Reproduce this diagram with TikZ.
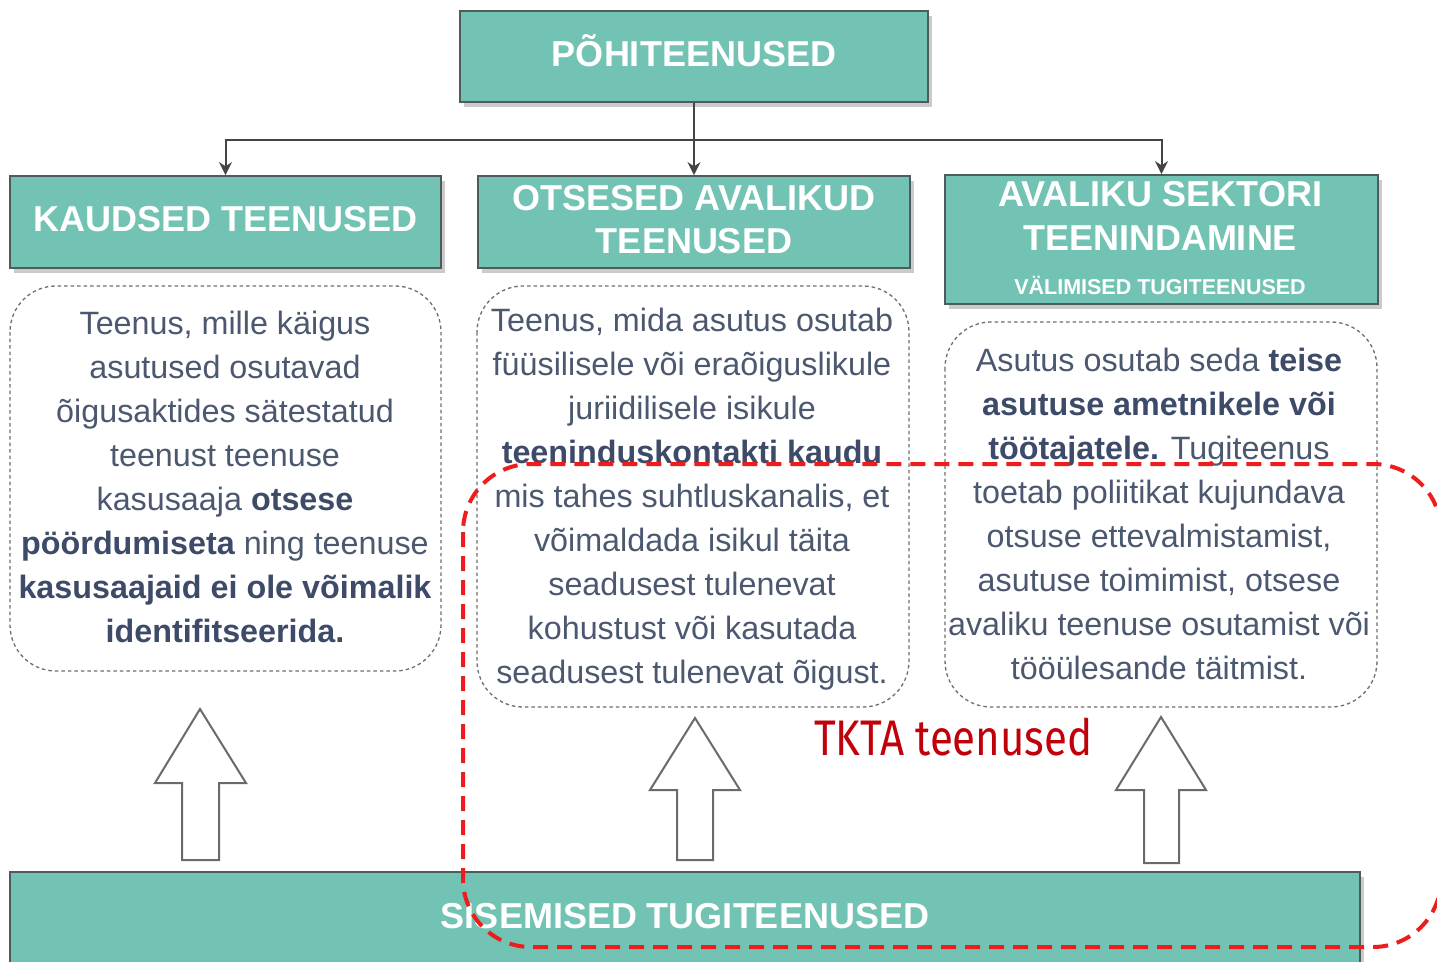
\documentclass[tikz,border=0pt]{standalone}
\usepackage{fontspec}
\setmainfont{Liberation Sans}
\newfontfamily\tktafont[FakeStretch=0.84]{Fira Sans}
\usetikzlibrary{shadows,arrows.meta}
\definecolor{tealfill}{HTML}{72C3B3}
\definecolor{boxline}{HTML}{4E5B5A}
\definecolor{bodytext}{HTML}{4C586F}
\definecolor{boldtext}{HTML}{3D4B69}
\definecolor{descline}{HTML}{6E6E6E}
\definecolor{connline}{HTML}{444444}
\definecolor{arrowline}{HTML}{6A6A6A}
\definecolor{tktared}{HTML}{EE1C1C}
\definecolor{tktatext}{HTML}{C0000A}
\newcommand\mybold[1]{\textbf{\color{boldtext}#1}}
\begin{document}
\begin{tikzpicture}[x=1pt,y=-1pt,
  headbox/.style={draw=boxline, line width=1.8pt, fill=tealfill, inner sep=0pt,
    drop shadow={shadow xshift=4pt, shadow yshift=-5pt, fill=black!45, opacity=0.45}},
  headtxt/.style={anchor=base, inner sep=0pt, text=white, font=\fontsize{36}{40}\selectfont\bfseries},
  subtxt/.style={anchor=base, inner sep=0pt, text=white, font=\fontsize{21.5}{24}\selectfont\bfseries},
  body/.style={anchor=base, inner sep=0pt, text=bodytext, font=\fontsize{32.3}{44}\selectfont},
  descbox/.style={draw=descline, line width=1.3pt, dash pattern=on 3.5pt off 3pt, rounded corners=46pt},
  conn/.style={draw=connline, line width=2pt, -{Stealth[length=13pt,width=13pt]}},
  blockarrow/.style={draw=arrowline, line width=2pt, fill=white, line join=miter},
  tkta/.style={draw=tktared, line width=4pt, dash pattern=on 15pt off 9pt, rounded corners=68pt}
]
\useasboundingbox[fill=white] (0,0) rectangle (1437,961);

% ---- teal boxes
\node[headbox, minimum width=468pt, minimum height=91pt] (poh) at (694,56.5) {};
\node[headbox, minimum width=431pt, minimum height=92pt] (kaud) at (225.5,222) {};
\node[headbox, minimum width=432pt, minimum height=92pt] (ots) at (694,222) {};
\node[headbox, minimum width=433pt, minimum height=129pt] (aval) at (1161.5,239.5) {};
\node[headbox, minimum width=1350pt, minimum height=108pt] (sis) at (685,926) {};

\node[headtxt] (pohT) at (694,66) {PÕHITEENUSED};
\node[headtxt] (kaudT) at (225.5,231) {KAUDSED TEENUSED};
\node[headtxt] (otsT1) at (694,210) {OTSESED AVALIKUD};
\node[headtxt] (otsT2) at (694,253) {TEENUSED};
\node[headtxt] (avalT1) at (1160,206) {AVALIKU SEKTORI};
\node[headtxt] (avalT2) at (1160,250) {TEENINDAMINE};
\node[subtxt] (avalT3) at (1160,294) {VÄLIMISED TUGITEENUSED};
\node[headtxt] (sisT) at (685,928) {SISEMISED TUGITEENUSED};

% ---- connectors
\coordinate (hub) at (694,140);
\draw[conn] (poh.south) -- (ots.north);
\draw[conn] (hub) -| (kaud.north);
\draw[conn] (hub) -| (aval.north);

% ---- description boxes
\draw[descbox] (10,286) rectangle (441,671);
\draw[descbox] (477,286) rectangle (909,707);
\draw[descbox] (945,322) rectangle (1377,707);

% left text
\node[body] (l1) at (225,334) {Teenus, mille käigus};
\node[body] (l2) at (225,378) {asutused osutavad};
\node[body] (l3) at (225,422) {õigusaktides sätestatud};
\node[body] (l4) at (225,466) {teenust teenuse};
\node[body] (l5) at (225,510) {kasusaaja \mybold{otsese}};
\node[body] (l6) at (225,554) {\mybold{pöördumiseta} ning teenuse};
\node[body] (l7) at (225,598) {\mybold{kasusaajaid ei ole võimalik}};
\node[body] (l8) at (225,642) {\mybold{identifitseerida.}};

% middle text
\node[body] (m1) at (692,331) {Teenus, mida asutus osutab};
\node[body] (m2) at (692,375) {füüsilisele või eraõiguslikule};
\node[body] (m3) at (692,419) {juriidilisele isikule};
\node[body] (m4) at (692,463) {\mybold{teeninduskontakti kaudu}};
\node[body] (m5) at (692,507) {mis tahes suhtluskanalis, et};
\node[body] (m6) at (692,551) {võimaldada isikul täita};
\node[body] (m7) at (692,595) {seadusest tulenevat};
\node[body] (m8) at (692,639) {kohustust või kasutada};
\node[body] (m9) at (692,683) {seadusest tulenevat õigust.};

% right text
\node[body] (r1) at (1159,371) {Asutus osutab seda \mybold{teise}};
\node[body] (r2) at (1159,415) {\mybold{asutuse ametnikele või}};
\node[body] (r3) at (1159,459) {\mybold{töötajatele.} Tugiteenus};
\node[body] (r4) at (1159,503) {toetab poliitikat kujundava};
\node[body] (r5) at (1159,547) {otsuse ettevalmistamist,};
\node[body] (r6) at (1159,591) {asutuse toimimist, otsese};
\node[body] (r7) at (1159,635) {avaliku teenuse osutamist või};
\node[body] (r8) at (1159,679) {tööülesande täitmist.};

% ---- block arrows
\draw[blockarrow] (200,709) -- (246,783) -- (219,783) -- (219,860) -- (182,860) -- (182,783) -- (155,783) -- cycle;
\draw[blockarrow] (695,718) -- (740,790) -- (713,790) -- (713,860) -- (677,860) -- (677,790) -- (650,790) -- cycle;
\draw[blockarrow] (1161,717) -- (1206,790) -- (1179,790) -- (1179,863) -- (1144,863) -- (1144,790) -- (1116,790) -- cycle;

% ---- TKTA label and frame
\node[anchor=base west, inner sep=0pt, text=tktatext, font=\fontsize{50}{55}\selectfont\tktafont] (tktaT) at (814,755) {TKTA teenused};
\draw[tkta] (463,464) rectangle (1441,947);
\end{tikzpicture}
\end{document}
